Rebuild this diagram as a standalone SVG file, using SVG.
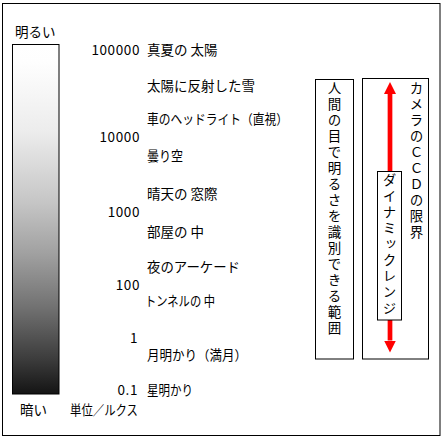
<svg xmlns="http://www.w3.org/2000/svg" width="445" height="440" viewBox="0 0 445 440">
<defs>
<linearGradient id="lum" x1="0" y1="0" x2="0" y2="1">
<stop offset="0" stop-color="#ffffff"/>
<stop offset="0.05" stop-color="#fefefe"/>
<stop offset="0.25" stop-color="#ececec"/>
<stop offset="0.45" stop-color="#c6c6c6"/>
<stop offset="0.6" stop-color="#a0a0a0"/>
<stop offset="0.75" stop-color="#727272"/>
<stop offset="0.9" stop-color="#3c3c3c"/>
<stop offset="1" stop-color="#141414"/>
</linearGradient>
<marker id="head" markerUnits="userSpaceOnUse" markerWidth="12" markerHeight="12" viewBox="0 0 12 12" refX="0" refY="6" orient="auto-start-reverse">
<path d="M0,0 L12,6 L0,12 z" fill="#ff0000"/>
</marker>
<style>
text{font-family:"Noto Sans CJK JP","Noto Sans CJK SC",sans-serif;font-size:13.5px;fill:#000}
.num{text-anchor:end;letter-spacing:0.6px}
.v{writing-mode:vertical-rl;letter-spacing:2.5px}
.box{fill:#fff;stroke:#000;stroke-width:1}
</style>
</defs>
<rect x="0" y="0" width="445" height="440" fill="#fff"/>
<rect x="2.5" y="3.5" width="437.5" height="432" fill="none" stroke="#000" stroke-width="1"/>

<g id="scale">
<rect x="12.5" y="44.5" width="46.5" height="349.5" fill="url(#lum)" stroke="#000" stroke-width="1"/>
<text x="15" y="37">明るい</text>
<text x="20" y="415">暗い</text>
</g>

<g id="values">
<text class="num" x="140" y="55">100000</text>
<text class="num" x="140" y="142">10000</text>
<text class="num" x="140" y="217">1000</text>
<text class="num" x="140" y="290">100</text>
<text class="num" x="138" y="343">1</text>
<text class="num" x="138" y="395">0.1</text>
<text x="70" y="415" textLength="68" lengthAdjust="spacingAndGlyphs">単位／ルクス</text>
</g>

<g id="labels">
<text x="147" y="55">真夏の 太陽</text>
<text x="147" y="91">太陽に反射した雪</text>
<text x="147" y="124" textLength="141" lengthAdjust="spacingAndGlyphs">車のヘッドライト（直視）</text>
<text x="147" y="161" textLength="36" lengthAdjust="spacingAndGlyphs">曇り空</text>
<text x="147" y="199">晴天の 窓際</text>
<text x="147" y="237">部屋の 中</text>
<text x="147" y="272" textLength="93" lengthAdjust="spacingAndGlyphs">夜のアーケード</text>
<text x="145" y="306" textLength="70" lengthAdjust="spacingAndGlyphs">トンネルの 中</text>
<text x="147" y="360" textLength="100" lengthAdjust="spacingAndGlyphs">月明かり（満月）</text>
<text x="147" y="395" textLength="46" lengthAdjust="spacingAndGlyphs">星明かり</text>
</g>

<g id="human-range">
<rect class="box" x="315.5" y="79.5" width="38" height="279.5"/>
<text class="v" x="334.5" y="81.5">人間の目で明るさを識別できる範囲</text>
</g>

<g id="ccd-limit">
<rect class="box" x="362.5" y="78.5" width="66" height="280.5"/>
<text class="v" x="416.5" y="81">カメラのＣＣＤの限界</text>
</g>

<g id="connectors">
<line x1="390" y1="94" x2="390" y2="340.5" stroke="#ff0000" stroke-width="4.7" marker-start="url(#head)" marker-end="url(#head)"/>
</g>

<g id="dynamic-range">
<rect class="box" x="377.5" y="171.5" width="24" height="148.5"/>
<text class="v" x="389.5" y="173.5">ダイナミックレンジ</text>
</g>
</svg>
